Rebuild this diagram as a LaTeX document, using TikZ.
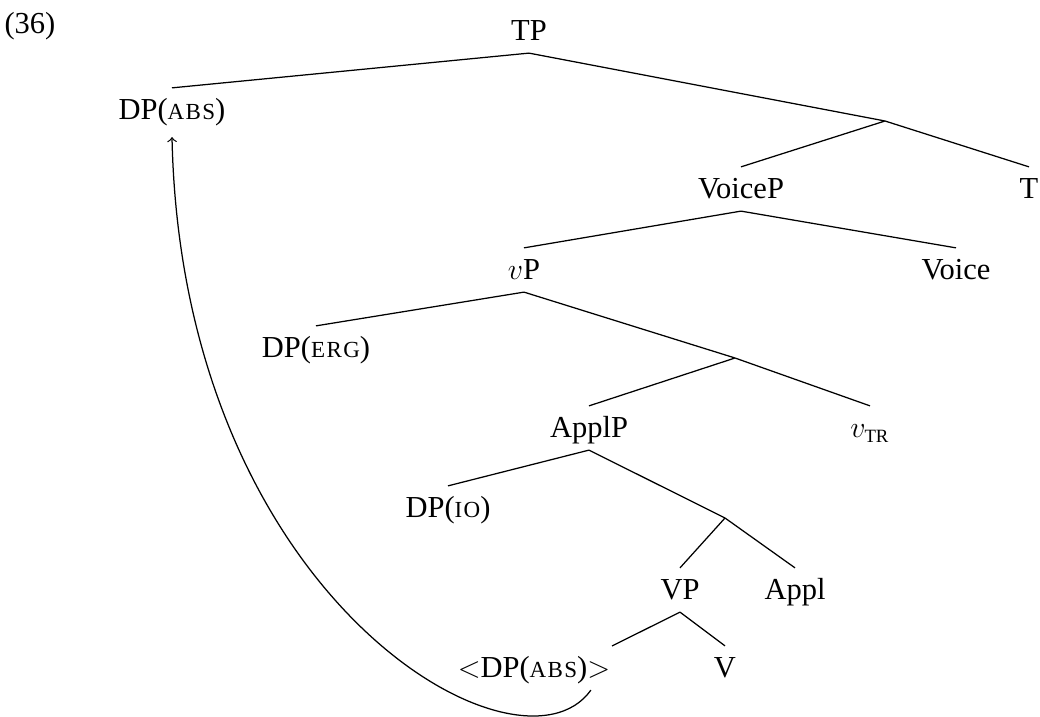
\documentclass[tikz,border=0pt]{standalone}
\usepackage{fontspec}
\setmainfont{Liberation Serif}
\newcommand{\smc}[1]{{\fontsize{9.2}{10}\selectfont\addfontfeatures{LetterSpace=6}#1}}
\tikzset{lbl/.style={inner xsep=2pt,inner ysep=4.6pt,text height=8pt,text depth=0pt,
  font=\fontsize{12.2}{14}\selectfont}}
\begin{document}
\begin{tikzpicture}[x=0.4pt,y=-0.4pt,line width=0.5pt]
\useasboundingbox (0,0) rectangle (1040,717);
\node[lbl] (num) at (30,24) {(36)};
\node[lbl] (tp) at (529,31) {TP};
\node[lbl] (dpabs) at (172,110) {DP(\smc{ABS})};
\coordinate (b1) at (885,121);
\node[lbl] (voicep) at (741,189) {VoiceP};
\node[lbl] (t) at (1029,189) {T};
\node[lbl] (vp) at (524,270) {$v$P};
\node[lbl] (voice) at (956,270) {Voice};
\node[lbl] (dperg) at (316,348) {DP(\smc{ERG})};
\coordinate (b2) at (735,358);
\node[lbl] (applp) at (589,428) {ApplP};
\node[lbl] (vtr) at (870,428) {$v_{\mbox{\fontsize{7.5}{8}\selectfont TR}}$};
\node[lbl] (dpio) at (448,508) {DP(\smc{IO})};
\coordinate (b3) at (725,518);
\node[lbl] (vpp) at (680,590) {VP};
\node[lbl] (appl) at (795,590) {Appl};
\node[lbl] (abs2) at (534,668) {$<$DP(\smc{ABS})$>$};
\node[lbl] (vv) at (725,668) {V};
\coordinate (abstop) at (612,646);
% branches
\draw (tp.south) -- (dpabs.north) (tp.south) -- (b1)
      (b1) -- (voicep.north) (b1) -- (t.north)
      (voicep.south) -- (vp.north) (voicep.south) -- (voice.north)
      (vp.south) -- (dperg.north) (vp.south) -- (b2)
      (b2) -- (applp.north) (b2) -- (vtr.north)
      (applp.south) -- (dpio.north) (applp.south) -- (b3)
      (b3) -- (vpp.north) (b3) -- (appl.north)
      (vpp.south) -- (abstop) (vpp.south) -- (vv.north);
% movement
\draw[->] ([xshift=-10pt]abs2.south east) .. controls (520,790) and (182,600) .. ([yshift=-2pt]dpabs.south);
\end{tikzpicture}
\end{document}
